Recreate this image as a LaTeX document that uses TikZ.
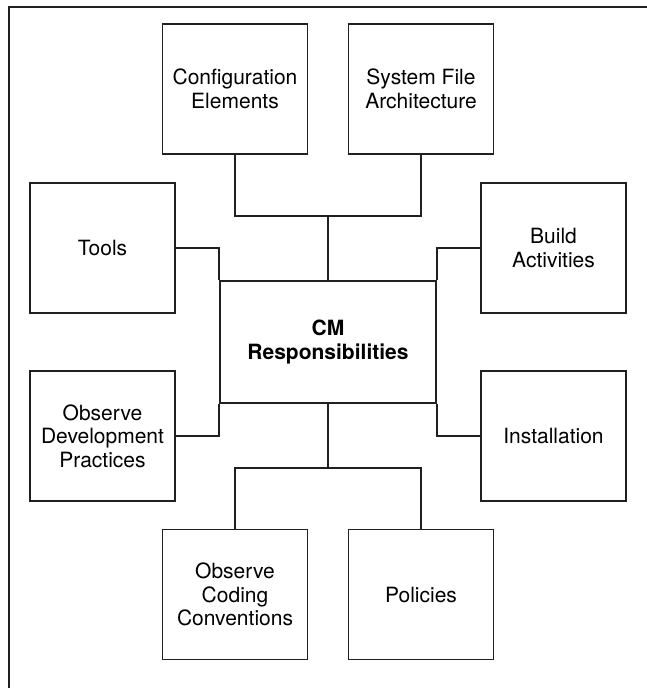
\documentclass[tikz,border=0pt]{standalone}
\usepackage{fontspec}
\setmainfont{TeX Gyre Heros}
\usepackage{xcolor}
\usepackage{tikz}
\usetikzlibrary{positioning,calc}
\definecolor{inkgray}{RGB}{35, 31, 32}

\begin{document}
\begin{tikzpicture}[x=1pt, y=-1pt,
    every node/.style={font=\fontsize{21}{23.5}\selectfont},
    respbox/.style={draw=inkgray, line width=1.8pt, minimum width=145pt, minimum height=130pt, align=center, inner sep=2pt},
    link/.style={draw=inkgray, line width=1.8pt}]
    \useasboundingbox (0,0) rectangle (647,688);
    % Outer frame (cut off at right and bottom)
    \draw[inkgray, line width=1.3pt] (9,688) -- (9,7) -- (647,7);

    % Central box
    \node[respbox, minimum width=216pt, minimum height=122pt] (cm) at (328, 342) {\textbf{CM}\\\textbf{Responsibilities}};

    % Top row
    \node[respbox] (conf) at (235, 89) {Configuration\\Elements};
    \node[respbox] (sysf) at (421, 89) {System File\\Architecture};

    % Left column
    \node[respbox] (tools) at (102.5, 248) {Tools};
    \node[respbox] (odp) at (102.5, 436) {Observe\\Development\\Practices};

    % Right column
    \node[respbox] (build) at (553.5, 248) {Build\\Activities};
    \node[respbox] (inst) at (553.5, 436) {Installation};

    % Bottom row
    \node[respbox] (occ) at (235, 594.5) {Observe\\Coding\\Conventions};
    \node[respbox] (pol) at (421, 594.5) {Policies};

    % Junctions
    \coordinate (topj) at (328, 216);
    \coordinate (botj) at (328, 468);

    % Connectors
    \draw[link] (conf) |- (topj) -| (sysf);
    \draw[link] (topj) -- (cm);
    \draw[link] (tools.east) -| (cm.north west);
    \draw[link] (odp.east) -| (cm.south west);
    \draw[link] (build.west) -| (cm.north east);
    \draw[link] (inst.west) -| (cm.south east);
    \draw[link] (cm) -- (botj);
    \draw[link] (occ) |- (botj) -| (pol);
\end{tikzpicture}
\end{document}
